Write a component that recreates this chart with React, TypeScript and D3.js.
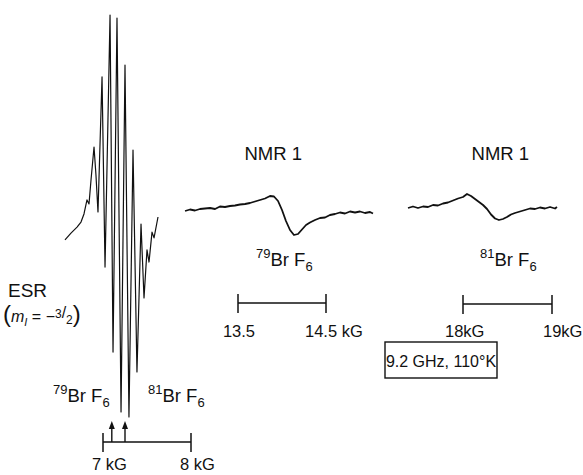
import React, { useEffect, useRef } from 'react';
import * as d3 from 'd3';

// ESR derivative trace: field (kG) and signal (arb. units)
const esrField = [6.568, 6.636, 6.705, 6.75, 6.784, 6.818, 6.841, 6.864, 6.898, 6.92, 6.943, 6.989, 7.023, 7.08, 7.114, 7.159, 7.205, 7.25, 7.295, 7.341, 7.386, 7.432, 7.466, 7.5, 7.523, 7.557, 7.58, 7.625];
const esrSignal = [-11.9, -8.5, -5.5, -3, 1, 8, 6, 18, 34.3, 20.4, 2, 69.2, -25.4, 100, -67.7, 98.5, -97.5, 75.1, -100, 32.8, -77.6, -4, -40.8, -16.9, -22.9, -8, -10.9, -0.5];

// NMR 79BrF6 trace
const nmr79Field = [12.898, 12.955, 13.011, 13.068, 13.125, 13.182, 13.239, 13.295, 13.352, 13.409, 13.466, 13.523, 13.58, 13.636, 13.693, 13.75, 13.807, 13.864, 13.909, 13.955, 14.0, 14.045, 14.091, 14.136, 14.182, 14.227, 14.273, 14.318, 14.375, 14.432, 14.489, 14.545, 14.602, 14.659, 14.716, 14.773, 14.83, 14.886, 14.943, 15.0, 15.034];
const nmr79Signal = [4, 5.5, 4.5, 6, 6.5, 7, 6, 8.5, 8, 9, 9.5, 10.5, 11, 12, 13.5, 15, 16.5, 19, 18.5, 14, 5, -6, -15, -20, -19, -14.5, -10, -7.5, -5, -3, -2.5, 0, 1, 2.5, 1.5, 3.5, 2.5, 3.5, 2, 3, 1.5];

// NMR 81BrF6 trace
const nmr81Field = [17.382, 17.438, 17.494, 17.551, 17.607, 17.663, 17.719, 17.775, 17.831, 17.888, 17.944, 18.0, 18.045, 18.09, 18.135, 18.18, 18.225, 18.27, 18.315, 18.36, 18.404, 18.449, 18.494, 18.539, 18.584, 18.64, 18.697, 18.753, 18.809, 18.865, 18.921, 18.978, 19.034, 19.056];
const nmr81Signal = [7, 8.5, 7, 8.5, 8, 10, 9.5, 11.5, 12.5, 14.5, 16.5, 18, 21, 19, 16, 13, 10, 6, 0.5, -3.5, -5, -4, -2, 0.5, 2, 3.5, 5, 6.5, 6, 7.5, 6.5, 8, 6.5, 8];

// isotope line positions marked by arrows (kG)
const arrowFields = [7.1, 7.25];

const FONT = "'Liberation Sans', Arial, sans-serif";

const App = () => {
  const svgRef = useRef(null);

  useEffect(() => {
    const width = 583;
    const height = 475;
    const svg = d3.select(svgRef.current);
    svg.selectAll('*').remove();
    svg.attr('width', width).attr('height', height);

    svg.append('rect').attr('width', width).attr('height', height).attr('fill', '#fff');

    // scales
    const xEsr = d3.scaleLinear().domain([7, 8]).range([103, 191]);
    const yEsr = d3.scaleLinear().domain([-100, 100]).range([417, 15]);
    const x79 = d3.scaleLinear().domain([13.5, 14.5]).range([238, 326]);
    const x81 = d3.scaleLinear().domain([18, 19]).range([463, 552]);
    const yNmr = d3.scaleLinear().domain([-30, 30]).range([245, 185]);

    const drawTrace = (fields, signals, xs, ys, w) => {
      const line = d3.line()
        .x((d, i) => xs(fields[i]))
        .y((d) => ys(d));
      svg.append('path')
        .datum(signals)
        .attr('d', line)
        .attr('fill', 'none')
        .attr('stroke', '#111')
        .attr('stroke-width', w)
        .attr('stroke-linejoin', 'round');
    };

    drawTrace(esrField, esrSignal, xEsr, yEsr, 1.2);
    drawTrace(nmr79Field, nmr79Signal, x79, yNmr, 1.8);
    drawTrace(nmr81Field, nmr81Signal, x81, yNmr, 1.8);

    // scale bars
    const scaleBar = (xs, lo, hi, y) => {
      const g = svg.append('g').attr('stroke', '#111').attr('stroke-width', 1.5);
      g.append('line').attr('x1', xs(lo)).attr('x2', xs(hi)).attr('y1', y).attr('y2', y);
      [lo, hi].forEach((v) => {
        g.append('line').attr('x1', xs(v)).attr('x2', xs(v)).attr('y1', y - 9).attr('y2', y + 10);
      });
    };
    scaleBar(xEsr, 7, 8, 442);
    scaleBar(x79, 13.5, 14.5, 303);
    scaleBar(x81, 18, 19, 304);

    // arrows on ESR scale
    arrowFields.forEach((f) => {
      svg.append('line')
        .attr('x1', xEsr(f)).attr('x2', xEsr(f))
        .attr('y1', 442).attr('y2', 427)
        .attr('stroke', '#111').attr('stroke-width', 1.4);
      svg.append('path')
        .attr('d', `M${xEsr(f) - 3},${429} L${xEsr(f)},${421} L${xEsr(f) + 3},${429} Z`)
        .attr('fill', '#111');
    });

    const text = (x, y, size, str, anchor = 'start') =>
      svg.append('text')
        .attr('x', x).attr('y', y)
        .attr('font-family', FONT)
        .attr('font-size', size)
        .attr('fill', '#111')
        .attr('text-anchor', anchor)
        .text(str);

    // tick labels
    text(xEsr(7) - 11, 470, 16.5, '7 kG');
    text(xEsr(8) - 11, 470, 16.5, '8 kG');
    text(x79(13.5) + 1, 337, 16.5, '13.5', 'middle');
    text(x79(14.5) - 21, 337, 16.5, '14.5 kG');
    text(x81(18) - 18, 337, 16.5, '18kG');
    text(x81(19) - 9, 337, 16.5, '19kG');

    // NMR titles
    text(x79(13.9), 160, 18.5, 'NMR 1', 'middle');
    text(x81(18.42), 160, 18.5, 'NMR 1', 'middle');

    // isotope labels
    const isotope = (x, y, mass) => {
      const t = svg.append('text')
        .attr('x', x).attr('y', y)
        .attr('font-family', FONT)
        .attr('font-size', 18.5)
        .attr('fill', '#111');
      t.append('tspan').attr('font-size', 13).attr('dy', -8).text(mass);
      t.append('tspan').attr('dy', 8).text('Br F');
      t.append('tspan').attr('font-size', 13).attr('dy', 5).text('6');
    };
    isotope(256, 266, '79');
    isotope(480, 266, '81');
    isotope(53, 402, '79');
    isotope(148, 402, '81');

    // ESR label
    text(8, 297, 19, 'ESR');
    const m = svg.append('text')
      .attr('x', 3).attr('y', 322)
      .attr('font-family', FONT)
      .attr('font-size', 16)
      .attr('fill', '#111');
    m.append('tspan').attr('font-size', 24).text('(');
    m.append('tspan').attr('font-style', 'italic').text('m');
    m.append('tspan').attr('font-size', 11).attr('dy', 4).attr('font-style', 'italic').text('I');
    m.append('tspan').attr('dy', -4).text(' = −');
    m.append('tspan').attr('font-size', 12).attr('dy', -4).text('3');
    m.append('tspan').text('/');
    m.append('tspan').attr('font-size', 12).attr('dy', 6).text('2');
    m.append('tspan').attr('font-size', 24).attr('dy', -2).text(')');

    // condition box
    svg.append('rect')
      .attr('x', 385).attr('y', 342).attr('width', 112).attr('height', 36)
      .attr('fill', 'none').attr('stroke', '#111').attr('stroke-width', 1.4);
    text(441, 367, 16, '9.2 GHz, 110°K', 'middle');
  }, []);

  return (
    <svg ref={svgRef} style={{ position: 'absolute', left: 0, top: 0, display: 'block' }} />
  );
};

export default App;
